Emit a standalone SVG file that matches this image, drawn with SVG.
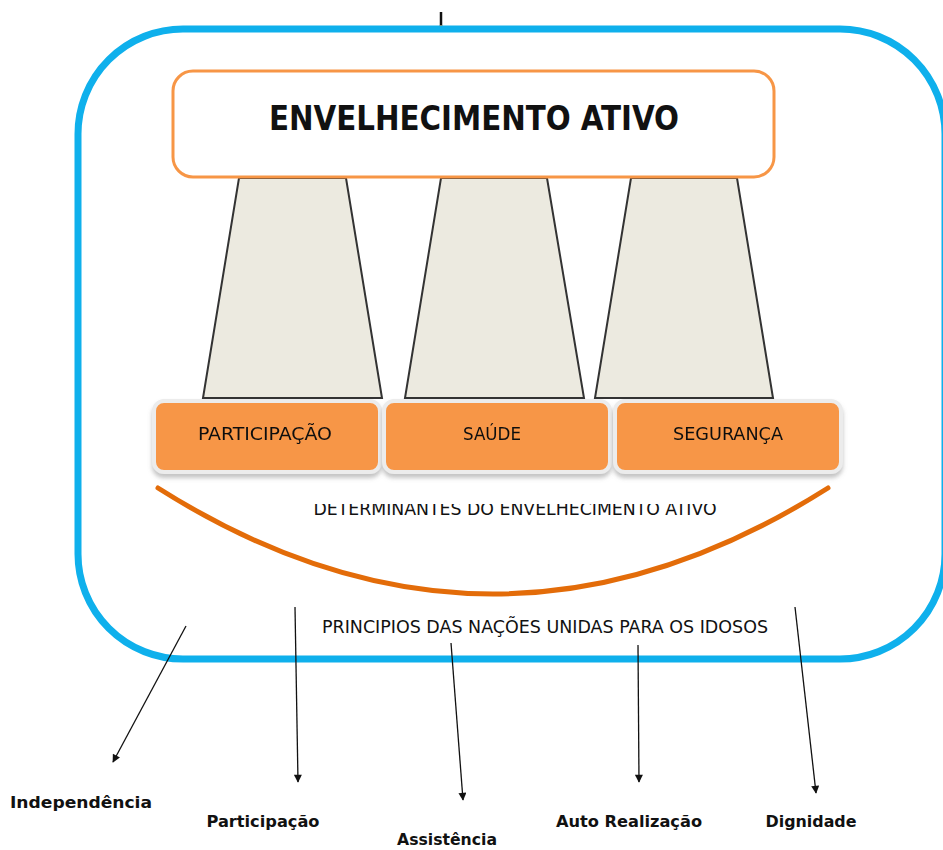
<svg xmlns="http://www.w3.org/2000/svg" width="943" height="850" viewBox="0 0 943 850">
<style>
.t{font-family:"DejaVu Sans Condensed","DejaVu Sans","Liberation Sans",sans-serif;font-stretch:condensed;fill:#111}
.b{font-weight:bold}
.pillar{fill:#ECEAE0;stroke:#333;stroke-width:2}
.det{fill:#F79646;stroke:#ECECEC;stroke-width:4}
.conn line{stroke:#111;stroke-width:1.3;marker-end:url(#ah)}
</style>
<defs>
<marker id="ah" viewBox="0 0 10 10" refX="9" refY="5" markerWidth="10" markerHeight="8" orient="auto" markerUnits="userSpaceOnUse">
<path d="M0,0 L10,5 L0,10 z" fill="#111"/>
</marker>
<filter id="sh" x="-5%" y="-10%" width="110%" height="130%">
<feDropShadow dx="0" dy="4" stdDeviation="2" flood-color="#888" flood-opacity="0.5"/>
</filter>
<clipPath id="clipdet"><rect x="300" y="504" width="430" height="20"/></clipPath>
</defs>
<rect width="943" height="850" fill="#fff"/>
<g id="tick"><line x1="441" y1="12" x2="441" y2="26" stroke="#111" stroke-width="2.5"/><line x1="441" y1="25" x2="441" y2="31" stroke="#E36C09" stroke-width="2.5"/></g>
<g id="frame"><rect x="78" y="29" width="867" height="630" rx="105" ry="105" fill="none" stroke="#0FB0EC" stroke-width="7"/></g>
<g id="pillars">
<polygon class="pillar" points="239,178 346,178 382,398 203,398"/>
<polygon class="pillar" points="441,178 547,178 584,398 405,398"/>
<polygon class="pillar" points="631,178 737,178 773,398 595,398"/>
</g>
<g id="envelhecimento-ativo">
<rect x="173" y="71" width="601" height="106" rx="20" fill="#fff" stroke="#F79646" stroke-width="3"/>
<text class="t b" x="474" y="130" font-size="34" text-anchor="middle" textLength="410" lengthAdjust="spacingAndGlyphs">ENVELHECIMENTO ATIVO</text>
</g>
<g id="participacao-det" filter="url(#sh)">
<rect class="det" x="154" y="401" width="226" height="71" rx="10"/>
<text class="t" x="265" y="440" font-size="17" text-anchor="middle" textLength="134" lengthAdjust="spacingAndGlyphs">PARTICIPAÇÃO</text>
</g>
<g id="saude-det" filter="url(#sh)">
<rect class="det" x="384" y="401" width="226" height="71" rx="10"/>
<text class="t" x="492" y="440" font-size="17" text-anchor="middle" textLength="58" lengthAdjust="spacingAndGlyphs">SAÚDE</text>
</g>
<g id="seguranca-det" filter="url(#sh)">
<rect class="det" x="615" y="401" width="226" height="71" rx="10"/>
<text class="t" x="728" y="440" font-size="17" text-anchor="middle" textLength="110" lengthAdjust="spacingAndGlyphs">SEGURANÇA</text>
</g>
<g id="determinantes">
<path d="M158,488 Q493,700 828,488" fill="none" stroke="#E36C09" stroke-width="5" stroke-linecap="round"/>
<text class="t" x="515" y="515" font-size="17" text-anchor="middle" textLength="403" lengthAdjust="spacingAndGlyphs" clip-path="url(#clipdet)">DETERMINANTES DO ENVELHECIMENTO ATIVO</text>
</g>
<g id="principios">
<text class="t" x="545" y="633" font-size="17" text-anchor="middle" textLength="446" lengthAdjust="spacingAndGlyphs">PRINCIPIOS DAS NAÇÕES UNIDAS PARA OS IDOSOS</text>
</g>
<g id="connectors" class="conn">
<line x1="186" y1="626" x2="113" y2="762"/>
<line x1="295" y1="607" x2="298" y2="782"/>
<line x1="451" y1="643" x2="463" y2="800"/>
<line x1="638" y1="645" x2="639" y2="782"/>
<line x1="795" y1="607" x2="816" y2="793"/>
</g>
<g id="independencia"><text class="t b" x="81" y="808" font-size="16" text-anchor="middle" textLength="142" lengthAdjust="spacingAndGlyphs">Independência</text></g>
<g id="participacao"><text class="t b" x="263" y="827" font-size="16" text-anchor="middle" textLength="113" lengthAdjust="spacingAndGlyphs">Participação</text></g>
<g id="assistencia"><text class="t b" x="447" y="845" font-size="15" text-anchor="middle" textLength="100" lengthAdjust="spacingAndGlyphs">Assistência</text></g>
<g id="auto-realizacao"><text class="t b" x="629" y="827" font-size="16" text-anchor="middle" textLength="146" lengthAdjust="spacingAndGlyphs">Auto Realização</text></g>
<g id="dignidade"><text class="t b" x="811" y="827" font-size="16" text-anchor="middle" textLength="91" lengthAdjust="spacingAndGlyphs">Dignidade</text></g>
</svg>
